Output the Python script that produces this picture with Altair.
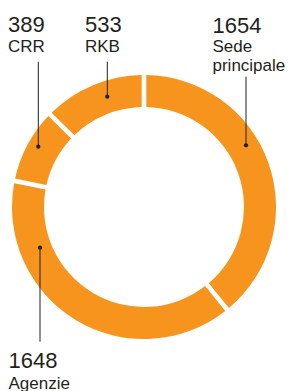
import altair as alt
import pandas as pd

# data
categories = ["Sede principale", "Agenzie", "CRR", "RKB"]
values = [1654, 1648, 389, 533]
label_names = ["Sede\nprincipale", "Agenzie", "CRR", "RKB"]

# annotation layout (chart pixel coordinates)
dot_x = [238, 32, 30.3, 99.3]
dot_y = [137.3, 239.7, 138.7, 88.7]
line_end_y = [68.7, 333.7, 53.7, 53.7]
num_x = [204.5, 0.5, 0, 77]
num_y = [24.5, 360, 24, 24]
name_y = [44, 381, 43.5, 43.5]

ORANGE = "#F7941E"
INK = "#231F20"

df = pd.DataFrame({"cat": categories, "val": values, "ord": list(range(len(values)))})

ann = pd.DataFrame({
    "cat": categories,
    "num": [str(v) for v in values],
    "name": label_names,
    "dx": dot_x, "dy": dot_y, "ly": line_end_y,
    "nx": num_x, "ny": num_y, "namey": name_y,
})

arcs = alt.Chart(df).mark_arc(
    outerRadius=132, innerRadius=100, padAngle=0.028, color=ORANGE
).encode(
    theta=alt.Theta("val:Q", stack=True),
    order=alt.Order("ord:Q"),
    x=alt.value(136), y=alt.value(199),
)

base = alt.Chart(ann)

lines = base.mark_rule(color=INK, strokeWidth=1).encode(
    x=alt.X("dx:Q", scale=None, axis=None),
    y=alt.Y("dy:Q", scale=None, axis=None),
    y2="ly:Q",
)

dots = base.mark_circle(color=INK, opacity=1, size=18).encode(
    x=alt.X("dx:Q", scale=None, axis=None),
    y=alt.Y("dy:Q", scale=None, axis=None),
)

nums = base.mark_text(
    align="left", baseline="alphabetic", font="Liberation Sans",
    fontSize=22, color=INK
).encode(
    x=alt.X("nx:Q", scale=None, axis=None),
    y=alt.Y("ny:Q", scale=None, axis=None),
    text="num:N",
)

names = base.mark_text(
    align="left", baseline="alphabetic", font="Liberation Sans",
    fontSize=17, color=INK, lineBreak="\n", lineHeight=19
).encode(
    x=alt.X("nx:Q", scale=None, axis=None),
    y=alt.Y("namey:Q", scale=None, axis=None),
    text="name:N",
)

chart = alt.layer(arcs, lines, dots, nums, names).properties(
    width=283, height=383, padding=0,
    autosize=alt.AutoSizeParams(type="none"),
).configure_view(stroke=None)

chart.save("out.html", embed_options={"renderer": "svg", "actions": False})
